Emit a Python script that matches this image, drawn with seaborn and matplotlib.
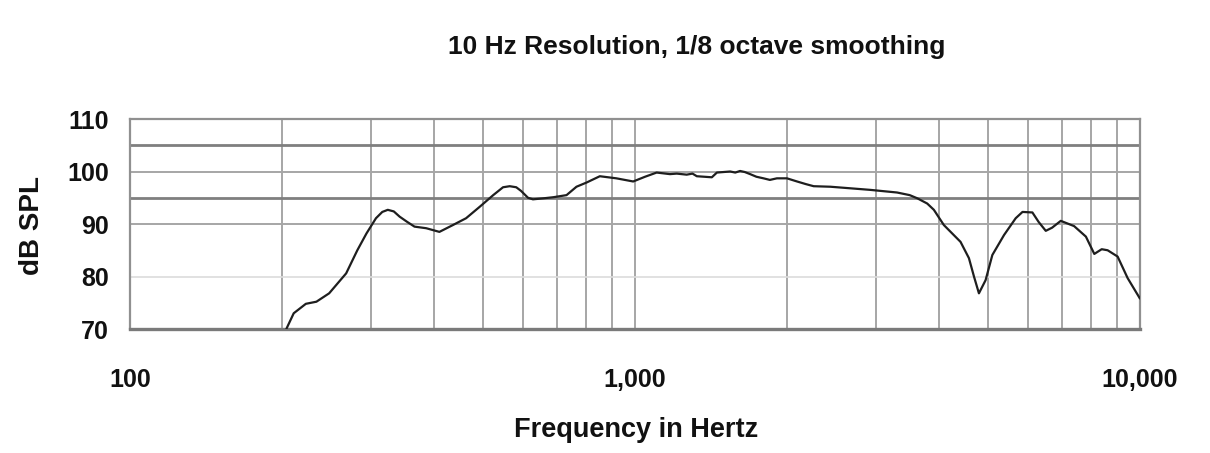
import numpy as np
import pandas as pd
import matplotlib
matplotlib.use("Agg")
import matplotlib.pyplot as plt
import seaborn as sns

# values
freq_hz = [204, 211, 223, 234, 248, 268, 282, 294, 307, 316, 324, 333, 342,
           354, 366, 386, 410, 436, 463, 493, 524, 548, 565, 582, 595, 614,
           628, 660, 689, 732, 766, 802, 852, 919, 992, 1047, 1104, 1173,
           1210, 1266, 1300, 1326, 1420, 1453, 1544, 1580, 1615, 1650, 1691,
           1740, 1797, 1850, 1910, 2000, 2094, 2180, 2259, 2438, 2671, 2925,
           3304, 3500, 3623, 3791, 3908, 4090, 4413, 4585, 4692, 4799, 4947,
           5102, 5381, 5675, 5854, 6124, 6300, 6509, 6700, 6970, 7407, 7816,
           8121, 8400, 8630, 9032, 9454, 10000]
spl_db = [70.0, 73.0, 74.8, 75.2, 76.8, 80.6, 85.0, 88.2, 91.1, 92.3, 92.7,
          92.4, 91.4, 90.4, 89.5, 89.2, 88.5, 89.8, 91.1, 93.3, 95.5, 97.0,
          97.2, 97.0, 96.3, 95.0, 94.7, 94.9, 95.1, 95.5, 97.1, 97.9, 99.1,
          98.7, 98.1, 99.0, 99.8, 99.5, 99.6, 99.4, 99.6, 99.1, 98.9, 99.8,
          100.0, 99.8, 100.1, 99.9, 99.5, 99.0, 98.7, 98.4, 98.7, 98.7, 98.1,
          97.6, 97.2, 97.1, 96.8, 96.5, 96.0, 95.5, 94.9, 93.9, 92.7, 89.8,
          86.6, 83.5, 80.0, 76.8, 79.3, 84.1, 87.9, 91.1, 92.3, 92.2, 90.4,
          88.7, 89.3, 90.6, 89.6, 87.6, 84.3, 85.2, 85.0, 83.8, 79.7, 75.8]

x_major = [100, 1000, 10000]
x_major_labels = ["100", "1,000", "10,000"]
x_minor = [200, 300, 400, 500, 600, 700, 800, 900,
           2000, 3000, 4000, 5000, 6000, 7000, 8000, 9000]
y_ticks = [70, 80, 90, 100, 110]

sns.set_style("white")
plt.rcParams["font.family"] = ["Liberation Sans", "DejaVu Sans"]
plt.rcParams["font.weight"] = "bold"
plt.rcParams["text.color"] = "#111111"
plt.rcParams["axes.labelcolor"] = "#111111"
plt.rcParams["xtick.labelcolor"] = "#111111"
plt.rcParams["ytick.labelcolor"] = "#111111"

df = pd.DataFrame({"Frequency": freq_hz, "SPL": spl_db})

fig = plt.figure(figsize=(12.1, 4.53), dpi=100)
ax = fig.add_axes([0.1074, 0.2737, 0.8347, 0.4636])

# grid, drawn by hand so the odd line weights can be kept
for f in x_minor + [1000]:
    ax.axvline(f, color="#a6a6a6", lw=1.4, zorder=1)
for yv, c, w in [(80, "#dcdcdc", 1.2), (90, "#a6a6a6", 1.4), (95, "#7f7f7f", 2.0),
                 (100, "#a6a6a6", 1.4), (105, "#7f7f7f", 2.0)]:
    ax.axhline(yv, color=c, lw=w, zorder=1)

sns.lineplot(data=df, x="Frequency", y="SPL", ax=ax, color="#1e1e1e",
             lw=1.6, zorder=3)

ax.set_xscale("log")
ax.set_xlim(100, 10000)
ax.set_ylim(70, 110)

ax.set_xticks(x_major)
ax.set_xticklabels(x_major_labels)
ax.set_xticks(x_minor, minor=True)
ax.set_xticklabels([], minor=True)
ax.set_yticks(y_ticks)

ax.tick_params(axis="x", which="both", direction="out", length=5, width=1.4,
               color="#a6a6a6", pad=23, labelsize=18)
ax.tick_params(axis="y", direction="out", length=6, width=1.4,
               color="#a6a6a6", pad=9, labelsize=18)

for side in ["left", "right", "top"]:
    ax.spines[side].set_color("#909090")
    ax.spines[side].set_linewidth(1.6)
ax.spines["bottom"].set_color("#7a7a7a")
ax.spines["bottom"].set_linewidth(2.4)

ax.set_xlabel("Frequency in Hertz", fontsize=19.5, fontweight="bold")
ax.set_ylabel("dB SPL", fontsize=20, fontweight="bold")
ax.xaxis.set_label_coords(0.501, -0.42)
ax.yaxis.set_label_coords(-0.084, 0.495)

fig.text(0.576, 0.896, "10 Hz Resolution, 1/8 octave smoothing",
         ha="center", va="center", fontsize=19, fontweight="bold")

fig.savefig("out.png", dpi=100)
